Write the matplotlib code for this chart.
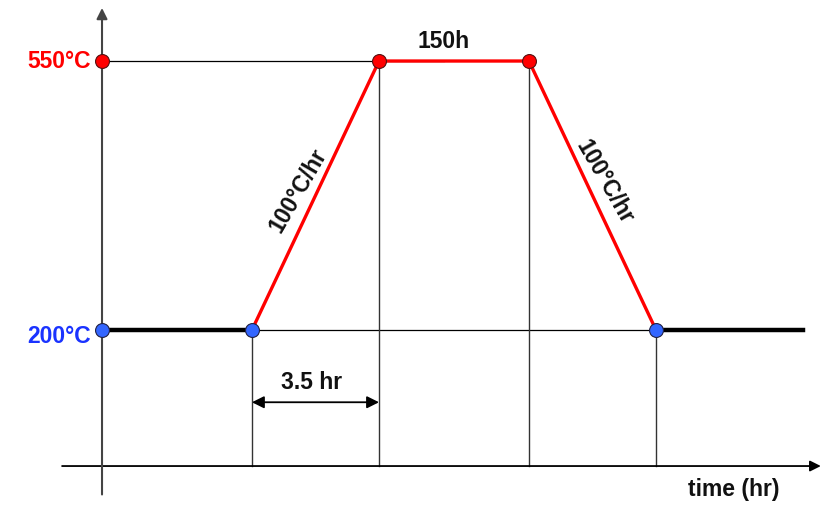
import matplotlib
matplotlib.use("Agg")
import matplotlib.pyplot as plt

# schematic time points (hours, not to scale for hold) and temperatures
t_start, t_ramp0, t_ramp1, t_hold1, t_cool1, t_end = 0.0, 4.13, 7.63, 11.76, 15.26, 19.3
T_low, T_high = 200, 550
ramp_times = [t_ramp0, t_ramp1, t_hold1, t_cool1]
ramp_temps = [T_low, T_high, T_high, T_low]
red_pts_t = [t_start, t_ramp1, t_hold1]
blue_pts_t = [t_start, t_ramp0, t_cool1]
labels = {"high": "550°C", "low": "200°C", "hold": "150h", "rate": "100°C/hr",
          "ramp": "3.5 hr", "xlabel": "time (hr)"}

plt.rcParams['font.family'] = ['Liberation Sans', 'DejaVu Sans']
fig = plt.figure(figsize=(8.27, 5.08), dpi=100)
ax = fig.add_axes([0, 0, 1, 1])
ax.set_xlim(-2.81, 19.97)
ax.set_ylim(-31.6, 629.4)
ax.axis('off')

axc = '#444444'
T_axis = 23
# axes with arrows
ax.annotate('', xy=(19.8, T_axis), xytext=(-1.1, T_axis),
            arrowprops=dict(arrowstyle='-|>', color='black', lw=1.3, mutation_scale=16, shrinkA=0, shrinkB=0))
ax.annotate('', xy=(0, 619), xytext=(0, -14),
            arrowprops=dict(arrowstyle='-|>', color=axc, lw=1.5, mutation_scale=16, shrinkA=0, shrinkB=0))

# guide lines
ax.plot([t_start, t_ramp1 + 1.8], [T_high, T_high], color='black', lw=0.9, zorder=2)
ax.plot([t_start, t_cool1], [T_low, T_low], color='black', lw=0.9, zorder=2)
for tt, TT in zip([t_ramp0, t_ramp1, t_hold1, t_cool1], [T_low, T_high, T_high, T_low]):
    ax.plot([tt, tt], [TT, T_axis], color='#333333', lw=1.0, zorder=2)

# profile
ax.plot([t_start, t_ramp0], [T_low, T_low], color='black', lw=3.2, zorder=3)
ax.plot([t_cool1, t_end], [T_low, T_low], color='black', lw=3.2, zorder=3)
ax.plot(ramp_times, ramp_temps, color='#ff0000', lw=2.4, zorder=4)

ax.plot(red_pts_t, [T_high] * 3, 'o', ms=10, mfc='#ff0000', mec='#551111', mew=0.8, zorder=5, ls='none')
ax.plot(blue_pts_t, [T_low] * 3, 'o', ms=10, mfc='#3366ff', mec='#222244', mew=0.8, zorder=5, ls='none')

fs = 16.5
ax.text(-0.3, T_high, labels["high"], color='#ff0000', fontsize=fs, fontweight='bold', ha='right', va='center')
ax.text(-0.3, T_low - 8, labels["low"], color='#1a33ff', fontsize=fs, fontweight='bold', ha='right', va='center')
ax.text((t_ramp1 + t_hold1) / 2 - 0.3, T_high + 25, labels["hold"], color='#111111', fontsize=fs, fontweight='bold', ha='center', va='center')
ax.text(5.4, 382, labels["rate"], color='#111111', fontsize=fs, fontweight='bold', ha='center', va='center', rotation=60, rotation_mode='anchor')
ax.text(13.85, 392, labels["rate"], color='#111111', fontsize=fs, fontweight='bold', ha='center', va='center', rotation=-60, rotation_mode='anchor')
ax.text((t_ramp0 + t_ramp1) / 2 - 0.1, 132, labels["ramp"], color='#111111', fontsize=fs, fontweight='bold', ha='center', va='center')
ax.annotate('', xy=(t_ramp0, 106), xytext=(t_ramp1, 106),
            arrowprops=dict(arrowstyle='<|-|>', color='black', lw=1.3, mutation_scale=18, shrinkA=0, shrinkB=0))
ax.text(17.4, -7, labels["xlabel"], color='#111111', fontsize=fs, fontweight='bold', ha='center', va='center')

fig.savefig('out.png', dpi=100)
